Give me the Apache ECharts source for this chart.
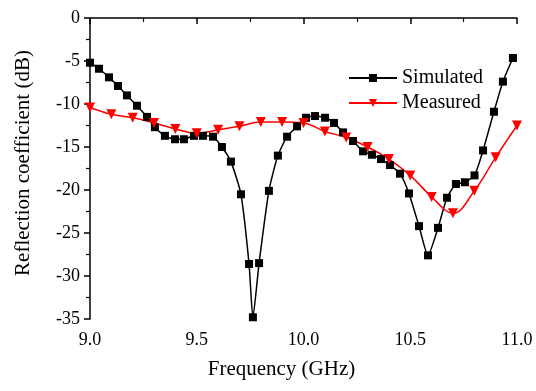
<!DOCTYPE html>
<html>
<head>
<meta charset="utf-8">
<script src="https://cdn.jsdelivr.net/npm/echarts@6/dist/echarts.min.js"></script>
<style>html,body{margin:0;padding:0;background:#fff;}#c{width:536px;height:391px;}</style>
</head>
<body>
<div id="c"></div>
<script>
var simFreq = [9.000, 9.042, 9.089, 9.131, 9.173, 9.220, 9.267, 9.304, 9.351, 9.398, 9.440, 9.487, 9.529, 9.576, 9.618, 9.660, 9.707, 9.745, 9.763, 9.792, 9.838, 9.880, 9.923, 9.970, 10.012, 10.054, 10.101, 10.143, 10.185, 10.232, 10.279, 10.321, 10.363, 10.405, 10.452, 10.494, 10.541, 10.583, 10.630, 10.672, 10.714, 10.756, 10.801, 10.841, 10.892, 10.934, 10.981];
var simVals = [-5.2, -5.9, -6.9, -7.9, -9.0, -10.2, -11.5, -12.7, -13.7, -14.1, -14.1, -13.7, -13.7, -13.8, -15.0, -16.7, -20.5, -28.6, -34.8, -28.5, -20.1, -16.0, -13.8, -12.6, -11.6, -11.4, -11.6, -12.2, -13.3, -14.3, -15.5, -15.9, -16.4, -17.1, -18.1, -20.4, -24.2, -27.6, -24.4, -20.9, -19.3, -19.1, -18.3, -15.4, -10.9, -7.4, -4.65];
var measFreq = [9.0, 9.1, 9.2, 9.3, 9.4, 9.5, 9.6, 9.7, 9.8, 9.9, 10.0, 10.1, 10.2, 10.3, 10.4, 10.5, 10.6, 10.7, 10.8, 10.9, 11.0];
var measVals = [-10.4, -11.2, -11.6, -12.2, -12.9, -13.4, -13.0, -12.6, -12.1, -12.1, -12.2, -13.2, -13.9, -15.0, -16.4, -18.3, -20.8, -22.7, -20.1, -16.2, -12.5];
var seriesNames = ['Simulated', 'Measured'];
var xTitle = 'Frequency (GHz)';
var yTitle = 'Reflection coefficient (dB)';

function zip(a, b) { return a.map(function (v, i) { return [v, b[i]]; }); }
var font = '"Liberation Serif", "Times New Roman", serif';
var chart = echarts.init(document.getElementById('c'), null, {renderer: 'canvas'});
chart.setOption({
  animation: false,
  backgroundColor: '#fff',
  grid: {left: 90, right: 19, top: 18, bottom: 72},
  legend: {
    left: 343, top: 63, orient: 'vertical',
    itemWidth: 48, itemHeight: 10, itemGap: 5,
    textStyle: {fontFamily: font, fontSize: 20, color: '#000', lineHeight: 20},
    data: seriesNames
  },
  xAxis: {
    type: 'value', min: 9, max: 11, interval: 0.5,
    name: xTitle, nameLocation: 'middle', nameGap: 40,
    nameTextStyle: {fontFamily: font, fontSize: 21, color: '#000', padding: [0, 44, 0, 0]},
    axisLine: {lineStyle: {color: '#000', width: 1.5}},
    axisTick: {inside: false, length: 6, lineStyle: {color: '#000', width: 1.5}},
    minorTick: {show: true, splitNumber: 2, length: 4, lineStyle: {color: '#000', width: 1.2}},
    splitLine: {show: false},
    axisLabel: {fontFamily: font, fontSize: 18, color: '#000', margin: 12,
      formatter: function (v) { return v.toFixed(1); }}
  },
  yAxis: {
    type: 'value', min: -35, max: 0, interval: 5,
    name: yTitle, nameLocation: 'middle', nameGap: 56, nameRotate: 90,
    nameTextStyle: {fontFamily: font, fontSize: 21, color: '#000', padding: [0, 0, 0, 11]},
    axisLine: {show: true, lineStyle: {color: '#000', width: 1.5}},
    axisTick: {show: true, inside: false, length: 6, lineStyle: {color: '#000', width: 1.5}},
    minorTick: {show: true, splitNumber: 2, length: 4, lineStyle: {color: '#000', width: 1.2}},
    splitLine: {show: false},
    axisLabel: {fontFamily: font, fontSize: 18, color: '#000', margin: 10}
  },
  series: [
    {
      name: seriesNames[0], type: 'line', data: zip(simFreq, simVals),
      smooth: 0.2, symbol: 'rect', symbolSize: 8,
      lineStyle: {color: '#000', width: 1.5}, itemStyle: {color: '#000'}
    },
    {
      name: seriesNames[1], type: 'line', data: zip(measFreq, measVals),
      smooth: 0.4, symbol: 'triangle', symbolRotate: 180, symbolSize: 10,
      lineStyle: {color: '#ff0000', width: 1.5}, itemStyle: {color: '#ff0000'}
    }
  ]
});
</script>
</body>
</html>
